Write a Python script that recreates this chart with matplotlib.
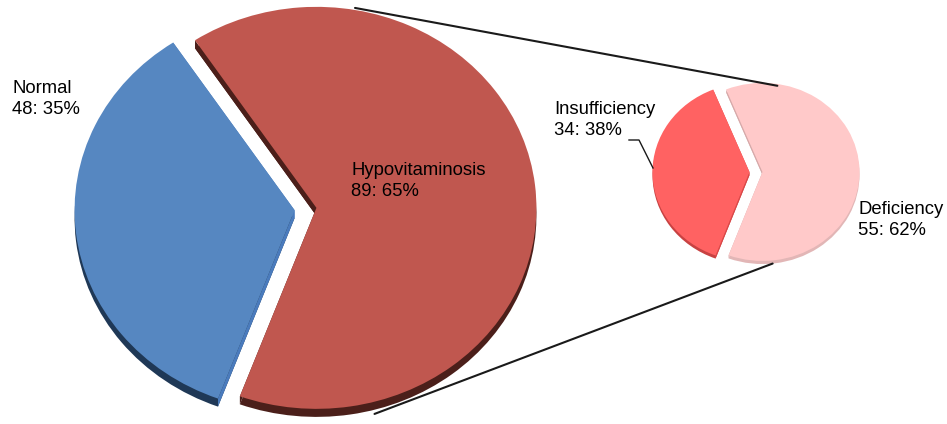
"""
Vitamin D status — bar-of-pie style (3D look) chart
"""

import numpy as np
import matplotlib.pyplot as plt
from matplotlib.patches import Polygon, ConnectionPatch
from matplotlib.lines import Line2D

plt.rcParams['font.family'] = ['Liberation Sans', 'DejaVu Sans']

# ── data ──────────────────────────────────────────────────────────────────────
main_labels = ['Normal', 'Hypovitaminosis']
main_counts = [48, 89]
sub_labels = ['Insufficiency', 'Deficiency']
sub_counts = [34, 55]

# ── colours (top face / cut side face / bottom rim) ───────────────────────────
main_top = ['#5687c1', '#c0574f']
main_side = ['#4a7bbd', '#4b1f1a']
main_base = ['#1f3856', '#4b1f1a']
sub_top = ['#ff6262', '#ffc9c9']
sub_side = ['#dc4848', '#d6a9a9']
sub_base = ['#c84242', '#e2b6b6']

W, H = 947, 424
fig = plt.figure(figsize=(W / 100, H / 100), dpi=100)


def add_pie_axes(cx, cy, rx, ry, lim):
    # pixel centre / radii -> axes in which a unit pie becomes an ellipse
    w, h = 2 * lim * rx, 2 * lim * ry
    ax = fig.add_axes([(cx - w / 2) / W, (H - cy - h / 2) / H, w / W, h / H])
    return ax


def pie_3d(ax, counts, startangle, explode, depth, top, side, base, lim):
    ex = [explode] * len(counts)
    ax.pie(counts, startangle=startangle, explode=ex, colors=base,
           center=(0, -depth), wedgeprops=dict(linewidth=0, zorder=1))
    wedges, _ = ax.pie(counts, startangle=startangle, explode=ex, colors=top,
                       wedgeprops=dict(linewidth=0, zorder=3))
    # side faces along the cut edges
    for w, c in zip(wedges, side):
        cx, cy = w.center
        for th in (w.theta1, w.theta2):
            px = cx + w.r * np.cos(np.radians(th))
            py = cy + w.r * np.sin(np.radians(th))
            ax.add_patch(Polygon([(cx, cy), (px, py), (px, py - depth), (cx, cy - depth)],
                                 closed=True, facecolor=c, edgecolor='none', zorder=2))
    ax.set_aspect('auto')
    ax.set_xlim(-lim, lim)
    ax.set_ylim(-lim, lim)
    ax.axis('off')
    return wedges


def edge_point(w, angle, r=1.0, dy=0.0):
    cx, cy = w.center
    return (cx + r * np.cos(np.radians(angle)), cy + dy + r * np.sin(np.radians(angle)))


# ── pies ──────────────────────────────────────────────────────────────────────
ax_big = add_pie_axes(305.5, 209, 220, 201, 1.15)
big = pie_3d(ax_big, main_counts, 123.5, 0.05, 0.04, main_top, main_side, main_base, 1.15)

ax_small = add_pie_axes(756, 172, 97, 89, 1.3)
small = pie_3d(ax_small, sub_counts, 112, 0.067, 0.035, sub_top, sub_side, sub_base, 1.3)

# ── connector lines ───────────────────────────────────────────────────────────
con_top = ConnectionPatch(xyA=edge_point(big[1], 80, 1.01), coordsA='data', axesA=ax_big,
                          xyB=edge_point(small[1], 81, 0.98), coordsB='data', axesB=ax_small,
                          color='#1a1a1a', lw=1.5)
con_bot = ConnectionPatch(xyA=edge_point(big[1], -75, 1.02, -0.04), coordsA='data', axesA=ax_big,
                          xyB=edge_point(small[1], -84, 1.0, -0.035), coordsB='data', axesB=ax_small,
                          color='#1a1a1a', lw=1.5)
fig.add_artist(con_top)
fig.add_artist(con_bot)

# ── labels ────────────────────────────────────────────────────────────────────
def label_text(labels, counts, i):
    pct = round(100 * counts[i] / sum(counts))
    return f'{labels[i]}\n{counts[i]}: {pct}%'


txt = dict(fontsize=13.3, va='top', ha='left', linespacing=1.33, color='black')
fig.text(12 / W, 1 - 80 / H, label_text(main_labels, main_counts, 0), **txt)
fig.text(351 / W, 1 - 162 / H, label_text(main_labels, main_counts, 1), **txt)
fig.text(554 / W, 1 - 101 / H, label_text(sub_labels, sub_counts, 0), **txt)
fig.text(858 / W, 1 - 201 / H, label_text(sub_labels, sub_counts, 1), **txt)

# leader line for Insufficiency
lx = np.array([629, 639, 653])
ly = np.array([140, 140, 168])
fig.add_artist(Line2D(lx / W, 1 - ly / H, transform=fig.transFigure,
                      color='#1a1a1a', lw=1.0))

plt.savefig('out.png', dpi=100)
plt.close()
